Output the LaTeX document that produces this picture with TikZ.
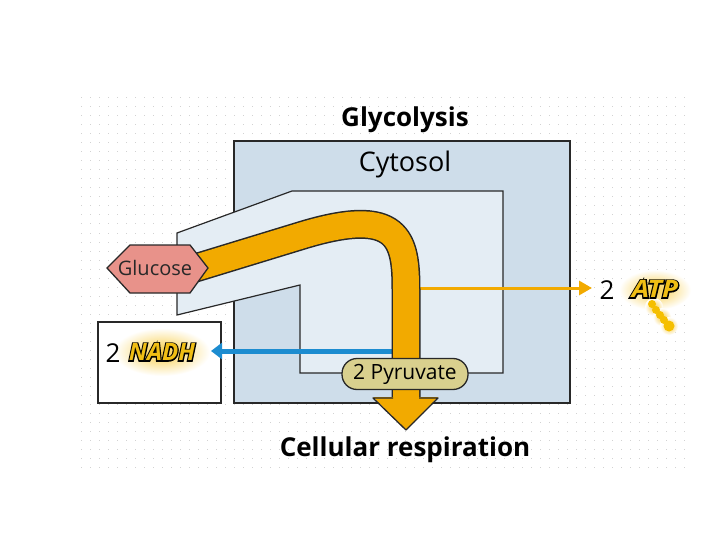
\documentclass[tikz,border=0pt]{standalone}
\usepackage{fontspec}
\setmainfont{Open Sans}
\newfontfamily\outfam{Open Sans}[FakeBold=10]
\usetikzlibrary{arrows.meta,calc}
\definecolor{cyto}{RGB}{206,221,234}
\definecolor{inner}{RGB}{228,237,244}
\definecolor{band}{RGB}{242,170,0}
\definecolor{gluc}{RGB}{232,146,138}
\definecolor{pyr}{RGB}{217,208,142}
\definecolor{nadhblue}{RGB}{28,140,208}
\definecolor{edge}{RGB}{40,40,40}
\definecolor{gold}{RGB}{240,190,20}
\definecolor{glow}{RGB}{248,205,70}
\tikzset{
  label/.style={inner sep=0pt, text=black},
  outl/.style={inner sep=0pt, text=gold, font=\fontsize{24}{24}\selectfont\bfseries\itshape},
}
\newcommand{\outlined}[1]{\rlap{\color{black}\outfam\bfseries\itshape #1}#1}
\begin{document}
\begin{tikzpicture}[x=1pt,y=-1pt]
\useasboundingbox (0,0) rectangle (720,540);
\fill[white] (0,0) rectangle (720,540);
% dotted grid
\foreach \yy in {98,107,...,470}
  \draw[gray!35, line width=1pt, dash pattern=on 1pt off 8pt] (81,\yy) -- (688,\yy);
% titles
\node[label, font=\fontsize{26}{26}\selectfont\bfseries] (title) at (405,120) {Glycolysis};
% cytosol box
\draw[fill=cyto, draw=edge, line width=1.5pt] (234,141) rectangle (570,403);
\node[label, font=\fontsize{27}{27}\selectfont] (cyt) at (405,164) {Cytosol};
% inner light region
\draw[fill=inner, draw=edge, line width=1.2pt]
  (177,233) -- (292,191) -- (503,191) -- (503,373) -- (300,373) -- (300,285) -- (177,315) -- cycle;
% NADH box
\draw[fill=white, draw=edge, line width=1.2pt] (98,322) rectangle (221,403);
% glows
\shade[inner color=glow, outer color=white] (162,352) ellipse (48 and 24);
\shade[inner color=glow, outer color=white] (655,290) ellipse (36 and 20);
\foreach \px/\py in {654/307,662/317,669/326}
  \shade[inner color=glow, outer color=white] (\px,\py) circle (9);
% blue arrow
\coordinate (bstart) at (393,351);
\coordinate (bend) at (211,351);
\draw[nadhblue, line width=5pt, -{Triangle[length=11pt,width=16pt]}] (bstart) -- (bend);
% thin orange arrow
\coordinate (ostart) at (418,288);
\coordinate (oend) at (592,288);
\draw[band, line width=3pt, -{Triangle[length=13pt,width=14pt]}] (ostart) -- (oend);
% main band
\coordinate (s) at (192,269);
\coordinate (e) at (406,398);
\draw[edge, line width=29pt] (s) -- (300,236) .. controls (400,205) and (406,240) .. (406,290) -- (e);
\draw[band, line width=26pt] (s) -- (300,236) .. controls (400,205) and (406,240) .. (406,290) -- (e);
\fill[band] (373,397) -- (406,430) -- (438,397) -- cycle;
\draw[edge, line width=1.3pt, line join=round] (393,398) -- (373,398) -- (406,430) -- (438,398) -- (419,398);
% pyruvate
\node[draw=edge, fill=pyr, line width=1.3pt, rounded corners=15pt, minimum width=126pt, minimum height=31pt, inner sep=0pt,
  font=\fontsize{21}{21}\selectfont] (pyruvate) at (405,374) {2 Pyruvate};
% glucose
\draw[fill=gluc, draw=edge, line width=1.3pt] (107,268) -- (130,245) -- (190,245) -- (208,268) -- (190,293) -- (130,293) -- cycle;
\node[label, text=edge, font=\fontsize{20}{20}\selectfont] (glucose) at (155,268) {Glucose};
% NADH / ATP labels
\node[label, font=\fontsize{26}{26}\selectfont] (two1) at (113,353) {2};
\node[outl] (nadh) at (162,352) {\outlined{NADH}};
\node[label, font=\fontsize{26}{26}\selectfont] (two2) at (607,290) {2};
\node[outl, xscale=1.15] (atp) at (655,289) {\outlined{ATP}};
% ATP dots
\foreach \px/\py/\r in {652/304/4,656/310/4,660/315/4,664/320/4,669/326/5.5}
  \fill[band!75!yellow] (\px,\py) circle (\r);
% bottom title
\node[label, font=\fontsize{26}{26}\selectfont\bfseries] (resp) at (405,450) {Cellular respiration};
\end{tikzpicture}
\end{document}
